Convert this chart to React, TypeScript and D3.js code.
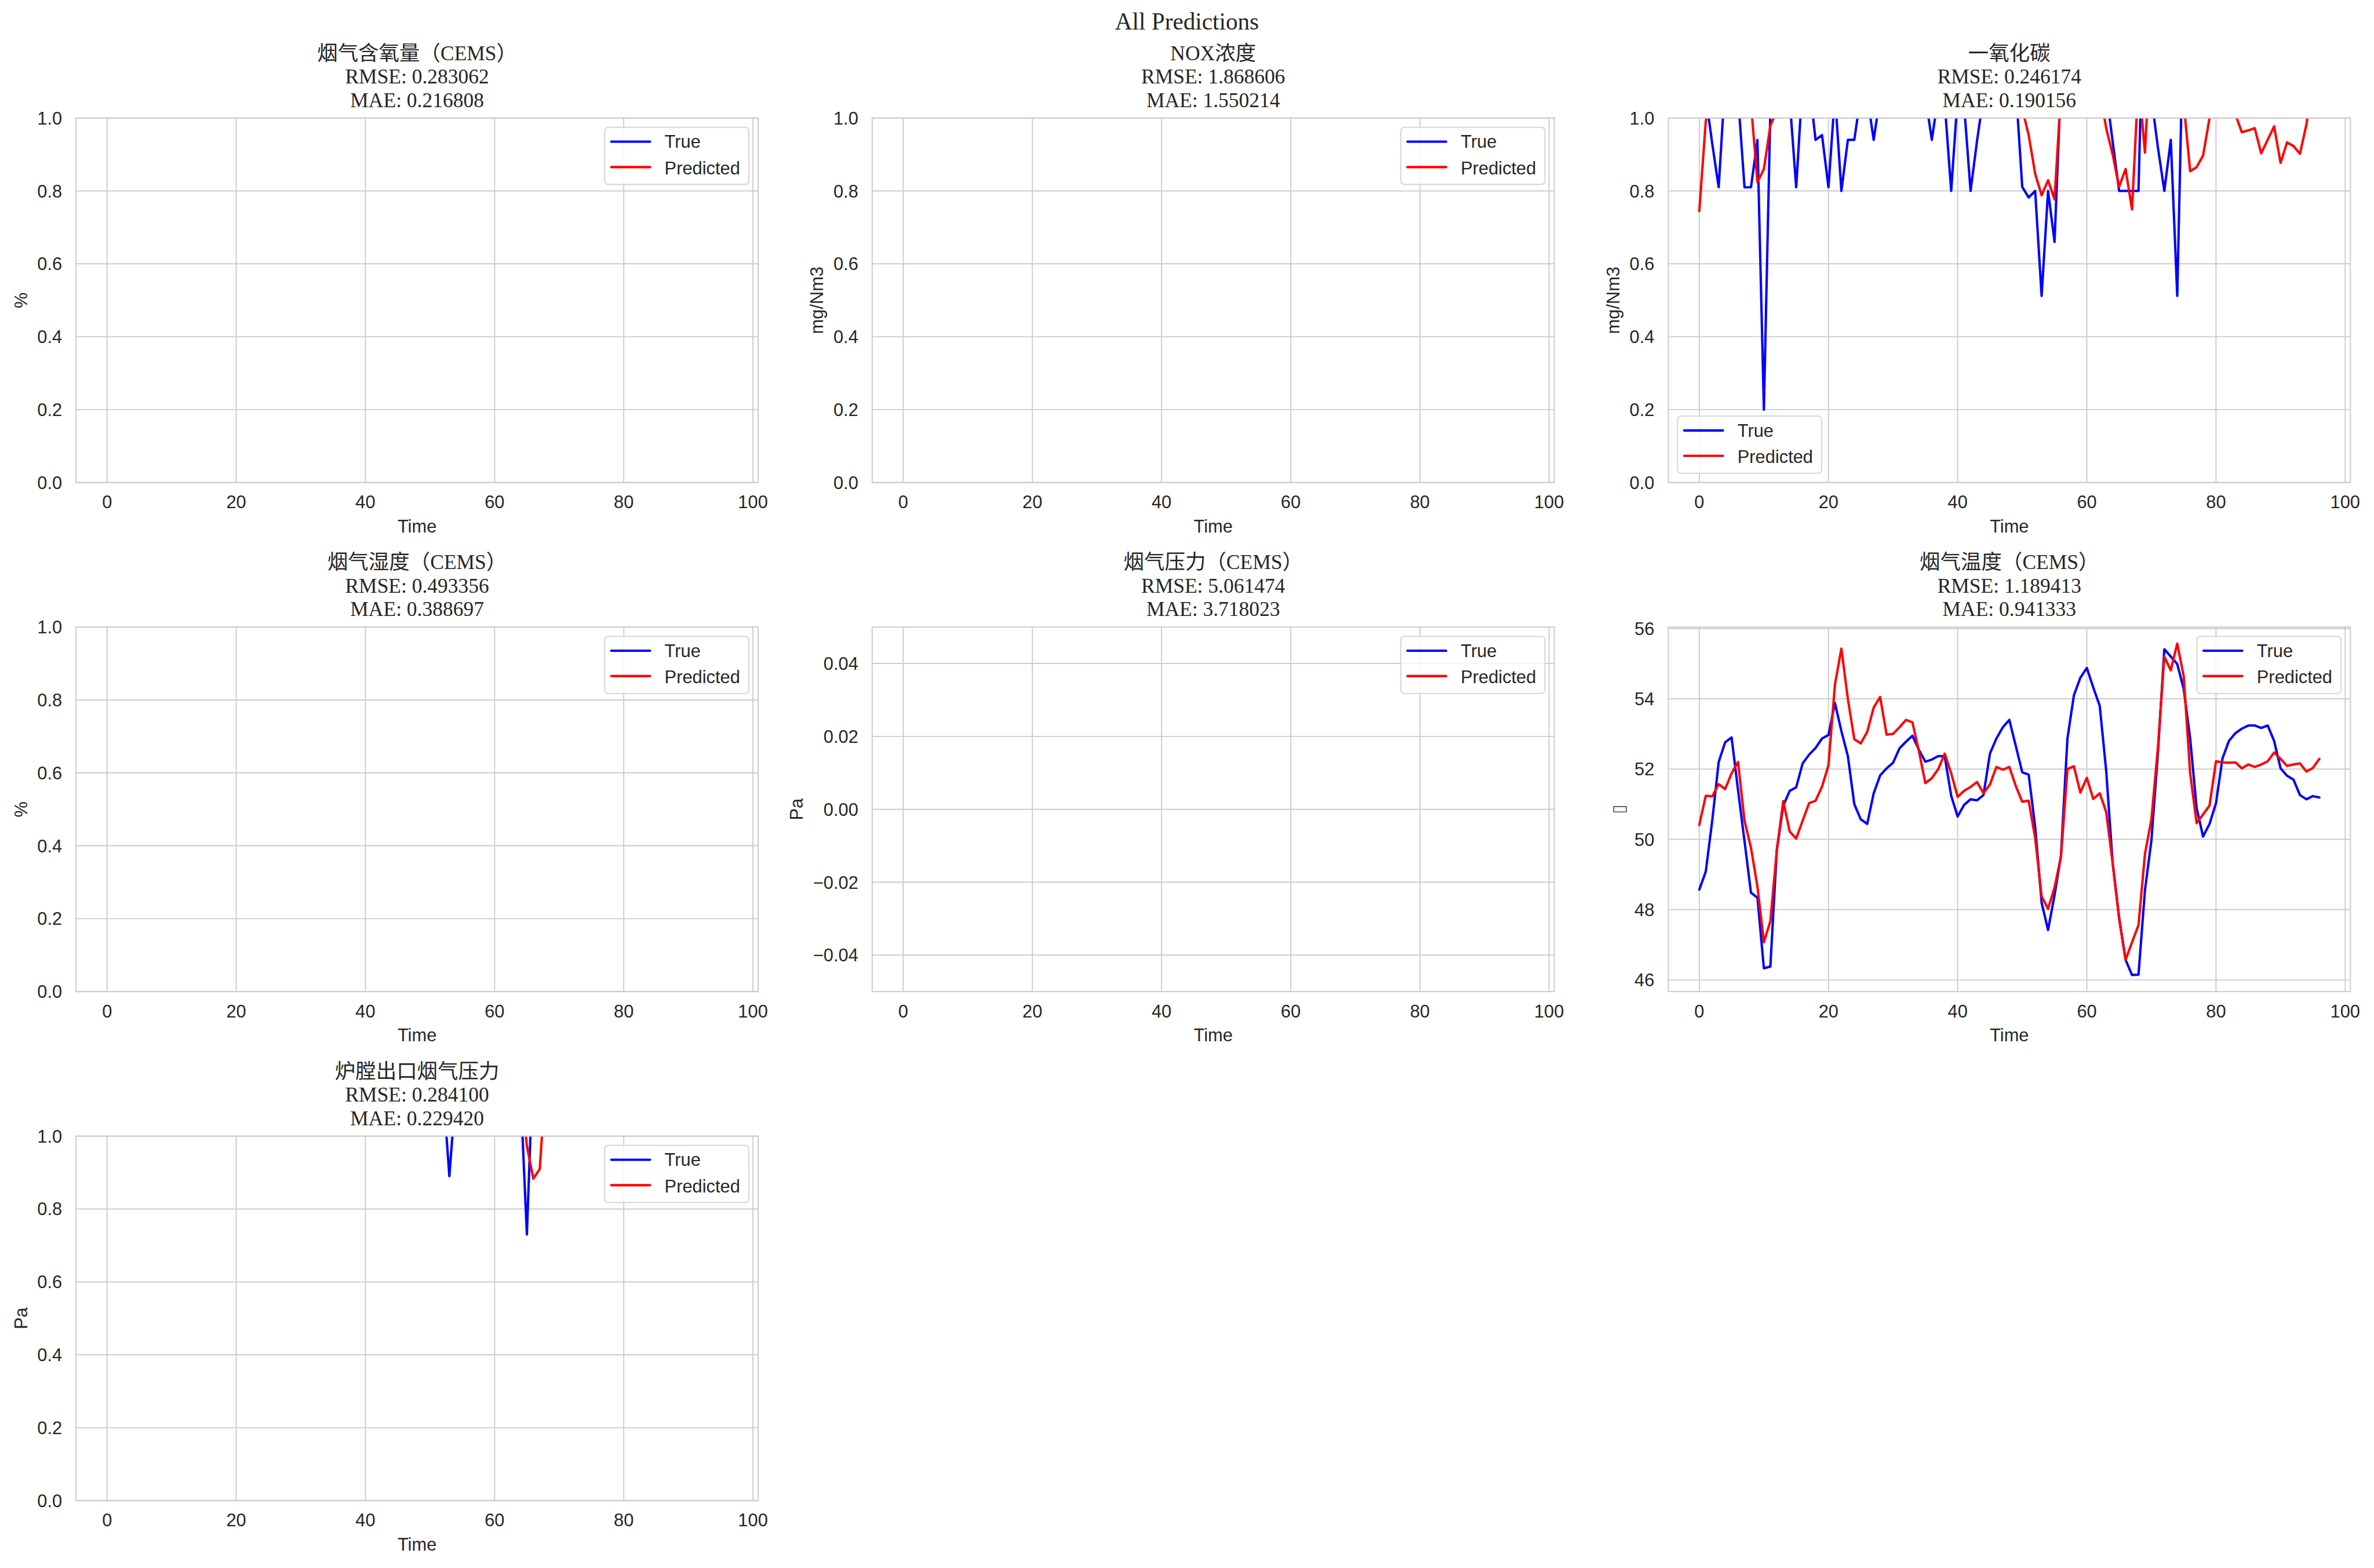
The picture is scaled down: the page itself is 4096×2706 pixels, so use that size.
import { useMemo } from 'react';
import * as d3 from 'd3';

// reference canvas, drawn through a viewBox so the window gets 0.762 of it
const W = 5369;
const H = 3547;
const OUT_W = 4096;
const OUT_H = 2706;

const INK = '#262626';
const GRID = '#cccccc';
const SANS = "'Liberation Sans', Arial, sans-serif";
const SERIF = "'Liberation Serif', 'Noto Sans CJK SC', serif";

const subplotTitles = ['烟气含氧量（CEMS）', 'NOX浓度', '一氧化碳', '烟气湿度（CEMS）', '烟气压力（CEMS）', '烟气温度（CEMS）', '炉膛出口烟气压力'];
const rmseValues = ['0.283062', '1.868606', '0.246174', '0.493356', '5.061474', '1.189413', '0.284100'];
const maeValues = ['0.216808', '1.550214', '0.190156', '0.388697', '3.718023', '0.941333', '0.229420'];
const yLabels = ['%', 'mg/Nm3', 'mg/Nm3', '%', 'Pa', '▯', 'Pa'];
const legendLabels = ['True', 'Predicted'];

const xTicks = [0, 20, 40, 60, 80, 100];
const unitTicks = [0, 0.2, 0.4, 0.6, 0.8, 1.0];
const pressureTicks = [-0.04, -0.02, 0, 0.02, 0.04];
const tempTicks = [46, 48, 50, 52, 54, 56];

// 一氧化碳 (most of it sits above the 0..1 window)
const coTrue = [
  1.12, 1.06, 0.93, 0.81, 1.1, 1.12, 1.06, 0.81, 0.81, 0.94,
  0.2, 1.02, 1.1, 1.12, 1.05, 0.81, 1.1, 1.1, 0.94, 0.953,
  0.81, 1.065, 0.8, 0.94, 0.94, 1.063, 1.06, 0.94, 1.06, 1.12,
  1.1, 1.08, 1.1, 1.12, 1.1, 1.06, 0.94, 1.06, 1.04, 0.8,
  1.06, 1.035, 0.8, 0.937, 1.06, 1.1, 1.12, 1.1, 1.1, 1.085,
  0.811, 0.782, 0.8, 0.512, 0.8, 0.66, 1.1, 1.12, 1.1, 1.12,
  1.1, 1.08, 1.1, 1.074, 0.935, 0.8, 0.8, 0.8, 0.8, 1.5,
  1.057, 0.92, 0.8, 0.94, 0.512, 1.32, 1.2, 1.12, 1.1, 1.12,
  1.1, 1.14, 1.12, 1.1, 1.12, 1.1, 1.08, 1.1, 1.12, 1.1,
  1.12, 1.1, 1.08, 1.1, 1.12, 1.1, 1.12,
];
const coPred = [
  0.745, 0.99, 1.1, 1.12, 1.1, 1.12, 1.1, 1.08, 1.04, 0.824,
  0.86, 0.979, 1.02, 1.1, 1.12, 1.1, 1.08, 1.1, 1.12, 1.1,
  1.1, 1.12, 1.14, 1.1, 1.08, 1.1, 1.12, 1.1, 1.1, 1.12,
  1.1, 1.08, 1.1, 1.12, 1.1, 1.1, 1.12, 1.1, 1.08, 1.1,
  1.12, 1.1, 1.1, 1.12, 1.1, 1.08, 1.1, 1.12, 1.1, 1.1,
  1.026, 0.953, 0.847, 0.788, 0.829, 0.777, 1.07, 1.1, 1.12, 1.1,
  1.12, 1.1, 1.076, 0.972, 0.9, 0.811, 0.86, 0.749, 1.108, 0.905,
  1.24, 1.12, 1.1, 1.12, 1.1, 1.04, 0.854, 0.865, 0.897, 1.0,
  1.1, 1.12, 1.1, 1.01, 0.961, 0.966, 0.972, 0.903, 0.94, 0.977,
  0.877, 0.933, 0.923, 0.902, 0.982, 1.1, 1.12,
];

// 烟气温度（CEMS）
const tempTrue = [
  48.57, 49.08, 50.53, 52.2, 52.76, 52.9, 51.4, 49.95, 48.48, 48.34,
  46.33, 46.38, 49.69, 50.96, 51.38, 51.48, 52.16, 52.41, 52.6, 52.87,
  52.97, 53.88, 53.08, 52.37, 51.0, 50.57, 50.44, 51.31, 51.82, 52.02,
  52.18, 52.59, 52.78, 52.95, 52.55, 52.21, 52.27, 52.37, 52.36, 51.24,
  50.65, 50.98, 51.14, 51.11, 51.26, 52.44, 52.87, 53.19, 53.4, 52.66,
  51.91, 51.84, 50.36, 48.2, 47.42, 48.41, 49.54, 52.87, 54.1, 54.6,
  54.88, 54.32, 53.8, 51.95, 49.33, 47.78, 46.57, 46.14, 46.15, 48.55,
  49.97, 52.44, 55.41, 55.2, 54.99, 54.28, 52.87, 50.89, 50.08, 50.44,
  51.03, 52.3, 52.8, 53.02, 53.15, 53.24, 53.24, 53.17, 53.24, 52.8,
  52.02, 51.81, 51.7, 51.26, 51.14, 51.23, 51.19,
];
const tempPred = [
  50.41, 51.24, 51.22, 51.57, 51.43, 51.88, 52.2, 50.53, 49.76, 48.66,
  47.07, 47.67, 49.69, 51.09, 50.22, 50.02, 50.53, 51.03, 51.1, 51.5,
  52.11, 54.4, 55.43, 54.0, 52.85, 52.73, 53.06, 53.75, 54.05, 52.98,
  53.0, 53.19, 53.4, 53.33, 52.51, 51.6, 51.74, 52.0, 52.44, 51.88,
  51.21, 51.38, 51.49, 51.63, 51.31, 51.56, 52.06, 51.98, 52.06, 51.52,
  51.07, 51.1, 50.04, 48.38, 48.02, 48.63, 49.51, 52.0, 52.08, 51.33,
  51.75, 51.15, 51.31, 50.78, 49.33, 47.74, 46.57, 47.07, 47.56, 49.58,
  50.57, 52.59, 55.2, 54.81, 55.57, 54.64, 51.88, 50.46, 50.71, 50.96,
  52.22, 52.19, 52.18, 52.19, 52.02, 52.13, 52.06, 52.13, 52.22, 52.47,
  52.29, 52.09, 52.13, 52.16, 51.93, 52.03, 52.29,
];

// 炉膛出口烟气压力 (only two dips come into the 0..1 window)
const furnaceTrue = [
  1.2, 1.22, 1.18, 1.2, 1.24, 1.2, 1.18, 1.22, 1.2, 1.2,
  1.22, 1.2, 1.18, 1.2, 1.22, 1.2, 1.2, 1.18, 1.2, 1.22,
  1.2, 1.2, 1.22, 1.18, 1.2, 1.2, 1.22, 1.2, 1.18, 1.2,
  1.22, 1.2, 1.2, 1.18, 1.2, 1.22, 1.2, 1.2, 1.18, 1.2,
  1.22, 1.2, 1.2, 1.18, 1.2, 1.22, 1.2, 1.2, 1.18, 1.2,
  1.2, 1.18, 1.134, 0.89, 1.124, 1.18, 1.2, 1.22, 1.2, 1.2,
  1.18, 1.2, 1.22, 1.18, 1.13, 0.73, 1.22, 1.2, 1.2, 1.18,
  1.2, 1.22, 1.2, 1.2, 1.18, 1.2, 1.22, 1.2, 1.2, 1.18,
  1.2, 1.22, 1.2, 1.2, 1.18, 1.2, 1.22, 1.2, 1.2, 1.18,
  1.2, 1.22, 1.2, 1.2, 1.18, 1.2, 1.2,
];
const furnacePred = [
  1.2, 1.2, 1.22, 1.2, 1.18, 1.2, 1.22, 1.2, 1.2, 1.18,
  1.2, 1.22, 1.2, 1.2, 1.18, 1.2, 1.22, 1.2, 1.2, 1.18,
  1.2, 1.22, 1.2, 1.2, 1.18, 1.2, 1.22, 1.2, 1.2, 1.18,
  1.2, 1.22, 1.2, 1.2, 1.18, 1.2, 1.22, 1.2, 1.2, 1.18,
  1.2, 1.22, 1.2, 1.2, 1.18, 1.2, 1.22, 1.2, 1.2, 1.18,
  1.2, 1.22, 1.2, 1.2, 1.18, 1.2, 1.22, 1.2, 1.2, 1.18,
  1.2, 1.22, 1.2, 1.2, 1.15, 0.973, 0.883, 0.91, 1.18, 1.2,
  1.22, 1.2, 1.2, 1.18, 1.2, 1.22, 1.2, 1.2, 1.18, 1.2,
  1.22, 1.2, 1.2, 1.18, 1.2, 1.22, 1.2, 1.2, 1.18, 1.2,
  1.22, 1.2, 1.2, 1.18, 1.2, 1.22, 1.2,
];

// layout in reference pixels
const COL_LEFT = [172, 1972.5, 3773];
const ROW_TOP = [267, 1418.5, 2570];
const AX_W = 1542.5;
const AX_H = 824.5;
const FS = 40.4;
const TITLE_FS = 46.5;
const LW = 5.4;

// rough Arial advance widths, for placing the y label
const CHAR_W: Record<string, number> = { '.': 0.278, '−': 0.584 };
const textWidth = (s: string, fs: number) => [...s].reduce((a, c) => a + (CHAR_W[c] ?? 0.556) * fs, 0);

function Legend({ x, y }: { x: number; y: number }) {
  const colors = ['blue', 'red'];
  return (
    <g transform={`translate(${x},${y})`}>
      <rect width={326} height={129.3} rx={8} fill="#fff" fillOpacity={0.8} stroke="#d6d6d6" strokeWidth={2.7} />
      {legendLabels.map((l, i) => (
        <g key={l}>
          <line x1={15} x2={102.5} y1={32.5 + i * 57.5} y2={32.5 + i * 57.5} stroke={colors[i]} strokeWidth={LW} strokeLinecap="round" />
          <text x={135.5} y={46.7 + i * 59.3} fontFamily={SANS} fontSize={FS} fill={INK}>{l}</text>
        </g>
      ))}
    </g>
  );
}

export default function App() {
  const panels = useMemo(
    () =>
      subplotTitles.map((title, i) => {
        const col = i % 3;
        const row = Math.floor(i / 3);
        const left = COL_LEFT[col];
        const top = ROW_TOP[row];
        let series: number[][] = [];
        if (i === 2) series = [coTrue, coPred];
        if (i === 5) series = [tempTrue, tempPred];
        if (i === 6) series = [furnaceTrue, furnacePred];

        let yDomain = [0, 1];
        let yTicks = unitTicks;
        let fmt = (v: number) => v.toFixed(1);
        if (i === 4) {
          yDomain = [-0.05, 0.05];
          yTicks = pressureTicks;
          fmt = (v: number) => (v < 0 ? '−' : '') + Math.abs(v).toFixed(2);
        }
        if (i === 5) {
          const [lo, hi] = d3.extent([...tempTrue, ...tempPred]) as [number, number];
          const pad = (hi - lo) * 0.05;
          yDomain = [lo - pad, hi + pad];
          yTicks = tempTicks;
          fmt = (v: number) => String(v);
        }

        const x = d3.scaleLinear().domain([-4.8, 100.8]).range([left, left + AX_W]);
        const y = d3.scaleLinear().domain(yDomain).range([top + AX_H, top]);
        const line = d3
          .line<number>()
          .x((_, k) => x(k))
          .y((d) => y(d));
        const tickW = d3.max(yTicks, (t) => textWidth(fmt(t), FS)) || 0;

        return {
          i, title, left, top, x, y, yTicks, fmt,
          paths: series.map((s) => line(s) || ''),
          ylabelX: left - 31.5 - tickW - 23,
          legend: i === 2 ? { x: left + 21, y: top + AX_H - 21 - 129.3 } : { x: left + AX_W - 21 - 326, y: top + 21 },
        };
      }),
    []
  );

  return (
    <svg
      width={OUT_W}
      height={OUT_H}
      viewBox={`0 0 ${W} ${H}`}
      style={{ position: 'absolute', left: 0, top: 0, display: 'block' }}
    >
      <rect width={W} height={H} fill="#fff" />
      <defs>
        {panels.map((p) => (
          <clipPath id={`clip-${p.i}`} key={p.i}>
            <rect x={p.left} y={p.top} width={AX_W} height={AX_H} />
          </clipPath>
        ))}
      </defs>

      <text x={W / 2} y={66.7} textAnchor="middle" fontFamily={SERIF} fontSize={54} fill={INK}>
        All Predictions
      </text>

      {panels.map((p) => {
        const bottom = p.top + AX_H;
        const cx = p.left + AX_W / 2;
        const cy = p.top + AX_H / 2;
        return (
          <g key={p.i}>
            {/* titles */}
            <g fontFamily={SERIF} fontSize={TITLE_FS} fill={INK} textAnchor="middle">
              <text x={cx} y={p.top - 25 - 106}>{p.title}</text>
              <text x={cx} y={p.top - 25 - 53}>{`RMSE: ${rmseValues[p.i]}`}</text>
              <text x={cx} y={p.top - 25}>{`MAE: ${maeValues[p.i]}`}</text>
            </g>

            {/* grid */}
            {xTicks.map((t) => (
              <line key={`gx${t}`} x1={p.x(t)} x2={p.x(t)} y1={p.top} y2={bottom} stroke={GRID} strokeWidth={2.5} />
            ))}
            {p.yTicks.map((t) => (
              <line key={`gy${t}`} x1={p.left} x2={p.left + AX_W} y1={p.y(t)} y2={p.y(t)} stroke={GRID} strokeWidth={2.5} />
            ))}

            {/* series */}
            <g clipPath={`url(#clip-${p.i})`} fill="none" strokeWidth={LW} strokeLinejoin="round" strokeLinecap="round">
              {p.paths.map((d, k) => (
                <path key={k} d={d} stroke={k === 0 ? 'blue' : 'red'} />
              ))}
            </g>

            <rect x={p.left} y={p.top} width={AX_W} height={AX_H} fill="none" stroke={GRID} strokeWidth={2.6} />

            {/* tick labels */}
            <g fontFamily={SANS} fontSize={FS} fill={INK}>
              {xTicks.map((t) => (
                <text key={`tx${t}`} x={p.x(t)} y={bottom + 58.7} textAnchor="middle">{t}</text>
              ))}
              {p.yTicks.map((t) => (
                <text key={`ty${t}`} x={p.left - 31.5} y={p.y(t) + FS * 0.358} textAnchor="end">{p.fmt(t)}</text>
              ))}
              <text x={cx} y={bottom + 113} textAnchor="middle">Time</text>
              <text
                x={p.ylabelX}
                y={cy}
                textAnchor="middle"
                transform={`rotate(-90, ${p.ylabelX}, ${cy})`}
                fontFamily={p.i === 5 ? "'DejaVu Sans', sans-serif" : SANS}
                fontSize={p.i === 5 ? 40 : FS}
                fill={p.i === 5 ? '#555' : INK}
              >
                {yLabels[p.i]}
              </text>
            </g>

            <Legend x={p.legend.x} y={p.legend.y} />
          </g>
        );
      })}
    </svg>
  );
}
